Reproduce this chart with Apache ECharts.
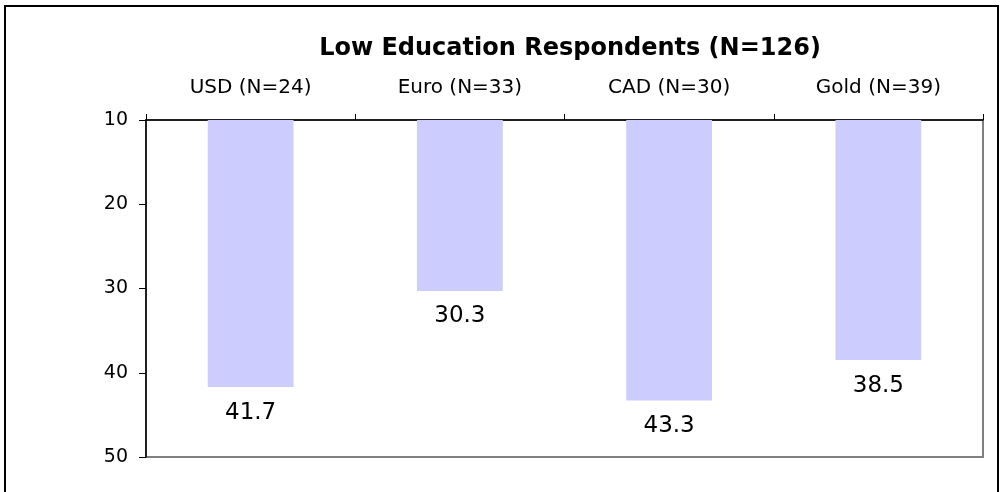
<!DOCTYPE html>
<html>
<head>
<meta charset="utf-8">
<script src="https://cdn.jsdelivr.net/npm/echarts@6/dist/echarts.min.js"></script>
<style>
  html, body { margin: 0; padding: 0; background: #fff; }
  #frame { position: absolute; left: 4px; top: 5px; width: 991px; height: 500px; border: 2px solid #000; }
  #chart { position: absolute; left: 0; top: 0; width: 1003px; height: 492px; }
</style>
</head>
<body>
<div id="frame"></div>
<div id="chart"></div>
<script>
// 数据
var categories = ['USD (N=24)', 'Euro (N=33)', 'CAD (N=30)', 'Gold (N=39)'];
var values = [41.7, 30.3, 43.3, 38.5];
var yTicks = [10, 20, 30, 40, 50];

var chart = echarts.init(document.getElementById('chart'));
var font = 'DejaVu Sans, Verdana, sans-serif';
var option = {
    animation: false,
    title: {
        text: 'Low Education Respondents (N=126)',
        left: 565,
        textAlign: 'center',
        top: 32,
        textStyle: { fontFamily: font, fontSize: 24, fontWeight: 'bold', color: '#000' }
    },
    grid: {
        left: 146, right: 20, top: 120, bottom: 35,
        show: true, borderColor: '#808080', borderWidth: 2, backgroundColor: '#fff'
    },
    xAxis: {
        type: 'category',
        position: 'top',
        data: categories,
        axisLine: { lineStyle: { color: '#000', width: 1.5 } },
        axisTick: { show: true, length: 6, lineStyle: { color: '#000' } },
        axisLabel: { fontFamily: font, fontSize: 20, color: '#000', margin: 22 }
    },
    yAxis: {
        type: 'value',
        inverse: true,
        min: yTicks[0],
        max: yTicks[yTicks.length - 1],
        interval: 10,
        splitLine: { show: false },
        axisLine: { show: true, lineStyle: { color: '#000', width: 1.5 } },
        axisTick: { show: true, length: 7, lineStyle: { color: '#000' } },
        axisLabel: { fontFamily: font, fontSize: 19, color: '#000', margin: 18 }
    },
    series: [{
        type: 'bar',
        data: values,
        barWidth: '41%',
        clip: true,
        itemStyle: { color: '#CCCCFF' },
        label: {
            show: true,
            position: 'bottom',
            distance: 14,
            fontFamily: font,
            fontSize: 23,
            color: '#000'
        }
    }]
};
chart.setOption(option);
</script>
</body>
</html>
